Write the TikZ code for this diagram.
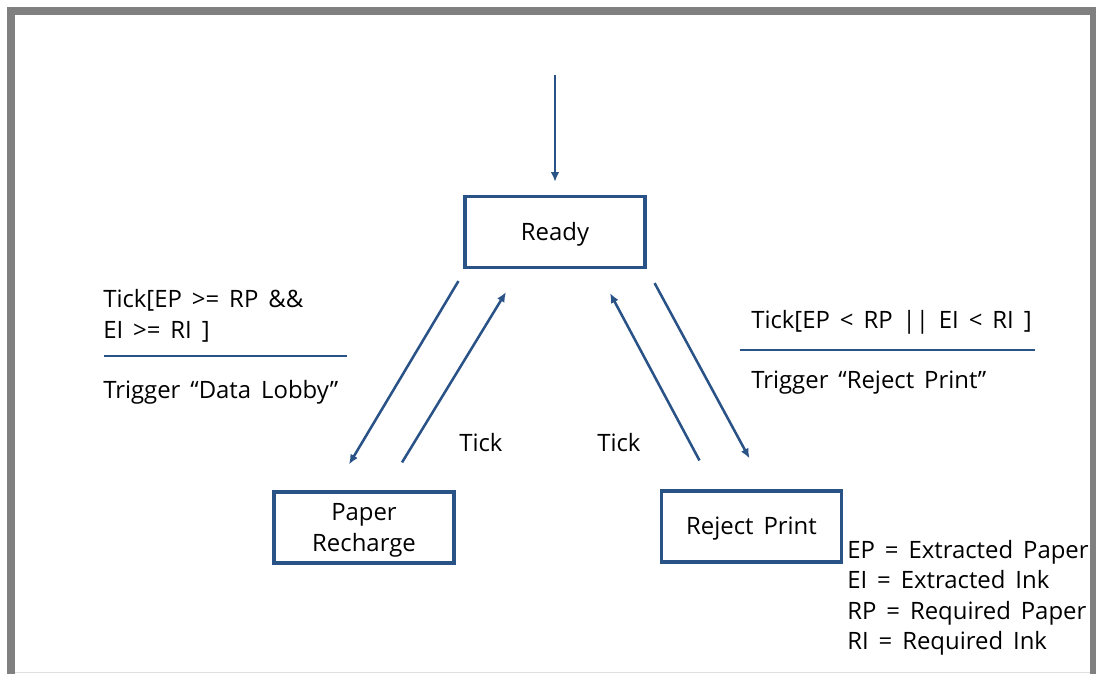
\documentclass[tikz,border=0pt]{standalone}
\usepackage{fontspec}
\setmainfont[WordSpace=1.6]{Open Sans}
\usetikzlibrary{arrows.meta}
\definecolor{boxblue}{RGB}{41,82,135}
\definecolor{framegray}{RGB}{128,128,128}

\begin{document}
\begin{tikzpicture}[x=0.025cm, y=-0.025cm,
                    state_style/.style={draw=boxblue, line width=2.2pt, minimum width=4.5cm,
                                        minimum height=1.775cm, align=center, text depth=0pt,
                                        font=\fontsize{17}{22}\selectfont},
                    edge_style/.style={-{Latex[length=7pt,width=6pt]}, draw=boxblue, line width=1.8pt},
                    txt/.style={anchor=base west, inner sep=0pt,
                                font=\fontsize{17}{22}\selectfont},
                    sep_line/.style={draw=boxblue, line width=2pt}
   ]
   \useasboundingbox (0,0) rectangle (1096,673);
   % Frame
   \begin{scope}
     \clip (0,0) rectangle (1096,673);
     \draw[framegray, line width=0.2cm] (11,11) rectangle (1094,700);
     \draw[gray!25, line width=0.6pt] (15,672.5) -- (1090,672.5);
   \end{scope}
   % States
   \node[state_style, text height=12pt] (ready) at (555,232) {Ready};
   \node[state_style] (paper) at (364,527.5) {Paper\\Recharge};
   \node[state_style, text height=12pt] (reject) at (751.5,526.5) {Reject Print};
   \coordinate (init) at (555,75);
   % Labels
   \node[txt] (guardL1) at (103,307) {Tick[EP >= RP \&\&};
   \node[txt] (guardL2) at (103,338) {EI >= RI ]};
   \node[txt] (trigL) at (103,398) {Trigger “Data Lobby”};
   \node[txt] (guardR) at (751,328) {Tick[EP < RP {|}{|} EI < RI ]};
   \node[txt] (trigR) at (751,388) {Trigger “Reject Print”};
   \node[txt] (tickL) at (459,451) {Tick};
   \node[txt] (tickR) at (597,451) {Tick};
   % Legend
   \node[txt] (ep) at (847,558) {EP = Extracted Paper};
   \node[txt] (ei) at (847,588) {EI = Extracted Ink};
   \node[txt] (rp) at (847,619) {RP = Required Paper};
   \node[txt] (ri) at (847,649) {RI = Required Ink};
   \draw[sep_line] (104,356) -- (347,356);
   \draw[sep_line] (740,350) -- (1035,350);

    \draw[edge_style] (init) -- ([yshift=0.325cm]ready.north);
    \draw[edge_style] ([xshift=-0.125cm,yshift=-0.3cm]ready.south west) -- ([xshift=-0.375cm,yshift=0.65cm]paper.north);
    \draw[edge_style] ([xshift=0.95cm,yshift=0.7cm]paper.north) -- ([xshift=-1.225cm,yshift=-0.575cm]ready.south);
    \draw[edge_style] ([xshift=-1.3cm,yshift=0.725cm]reject.north) -- ([xshift=1.375cm,yshift=-0.6cm]ready.south);
    \draw[edge_style] ([xshift=0.2cm,yshift=-0.35cm]ready.south east) -- ([xshift=-0.05cm,yshift=0.775cm]reject.north);
\end{tikzpicture}
\end{document}
